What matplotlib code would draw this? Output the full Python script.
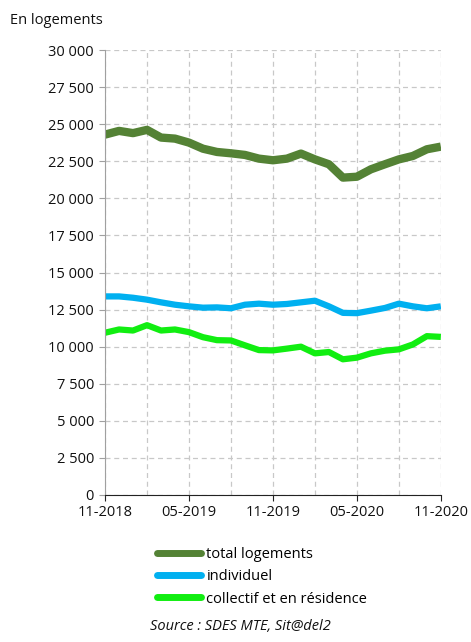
import matplotlib
matplotlib.use("Agg")
import matplotlib.pyplot as plt
from matplotlib.ticker import FuncFormatter, MultipleLocator

plt.rcParams['font.family'] = ['Open Sans', 'DejaVu Sans']

months = ["11-2018", "12-2018", "01-2019", "02-2019", "03-2019", "04-2019", "05-2019",
          "06-2019", "07-2019", "08-2019", "09-2019", "10-2019", "11-2019", "12-2019",
          "01-2020", "02-2020", "03-2020", "04-2020", "05-2020", "06-2020", "07-2020",
          "08-2020", "09-2020", "10-2020", "11-2020"]
tick_labels = ["11-2018", "05-2019", "11-2019", "05-2020", "11-2020"]

total = [24300, 24550, 24400, 24620, 24100, 24030, 23760, 23350, 23130, 23040, 22930,
         22680, 22570, 22680, 23020, 22630, 22300, 21400, 21460, 21960, 22300, 22630,
         22860, 23310, 23490]
individuel = [13390, 13390, 13300, 13170, 12990, 12830, 12720, 12630, 12650, 12590, 12830,
              12900, 12830, 12880, 12990, 13100, 12720, 12280, 12260, 12430, 12610, 12900,
              12720, 12590, 12720]
collectif = [10940, 11160, 11090, 11450, 11090, 11160, 10980, 10640, 10440, 10420, 10090,
             9770, 9750, 9870, 10000, 9550, 9640, 9150, 9260, 9550, 9730, 9820, 10150,
             10710, 10660]

series_names = ["total logements", "individuel", "collectif et en résidence"]
colors = ["#548235", "#00B0F0", "#11EE11"]

fig = plt.figure(figsize=(4.71, 6.42), dpi=100)
ax = fig.add_axes([0.223, 0.229, 0.713, 0.693])

x = list(range(len(months)))
lws = [6.0, 4.5, 4.5]
for vals, name, c, lw in zip([total, individuel, collectif], series_names, colors, lws):
    ax.plot(x, vals, color=c, lw=lw, label=name, solid_capstyle='butt', solid_joinstyle='round')

ax.set_xlim(0, len(months) - 1)
ax.set_ylim(0, 30000)
ax.yaxis.set_major_locator(MultipleLocator(2500))
ax.yaxis.set_major_formatter(FuncFormatter(lambda v, p: f"{int(v):,}".replace(",", " ")))
ax.set_xticks([months.index(t) for t in tick_labels])
ax.set_xticklabels(tick_labels)
ax.set_xticks(range(0, len(months), 3), minor=True)

ax.grid(True, which='major', axis='y', color='#c8c8c8', ls=(0, (4, 3)), lw=0.9)
ax.grid(True, which='both', axis='x', color='#c8c8c8', ls=(0, (4, 3)), lw=0.9)
ax.set_axisbelow(True)

for s in ['top', 'right']:
    ax.spines[s].set_visible(False)
ax.spines['left'].set_color('#a0a0a0')
ax.spines['bottom'].set_color('#222222')
ax.tick_params(axis='y', length=4, color='#a0a0a0', labelsize=10.5, pad=4, labelcolor='#111111')
ax.tick_params(axis='x', which='major', length=4, color='#222222', labelsize=10.5, pad=3, labelcolor='#111111')
ax.tick_params(axis='x', which='minor', length=0)

fig.text(0.021, 0.968, "En logements", fontsize=10.5, ha='left', va='center', color='#111111')

leg = fig.legend(loc='upper left', bbox_to_anchor=(0.333, 0.148), frameon=False,
                 fontsize=10.5, handlelength=3.0, handletextpad=0.4, labelspacing=0.5,
                 borderaxespad=0, borderpad=0)
for h in leg.get_lines():
    h.set_linewidth(5)
    h.set_solid_capstyle('round')

fig.text(0.51, 0.013, "Source : SDES MTE, Sit@del2", fontsize=10.5, style='italic',
         ha='center', va='bottom', color='#111111')

fig.savefig("out.png", dpi=100)
